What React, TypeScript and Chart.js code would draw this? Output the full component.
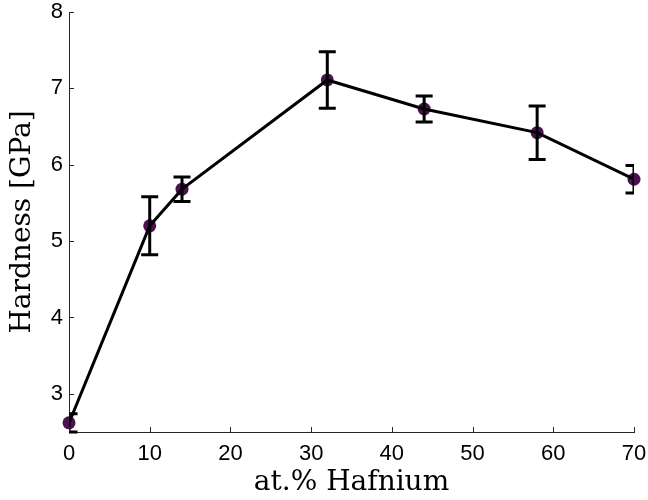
import React, { useEffect, useRef } from "react";
import { Chart, registerables } from "chart.js";

Chart.register(...registerables);

const hafnium = [0, 10, 14, 32, 44, 58, 70];
const hardness = [2.62, 5.2, 5.68, 7.11, 6.73, 6.42, 5.81];
const hardnessErr = [0.12, 0.38, 0.16, 0.37, 0.17, 0.35, 0.18];
const xTicks = [0, 10, 20, 30, 40, 50, 60, 70];
const yTicks = [3, 4, 5, 6, 7, 8];
const xTitle = "at.% Hafnium";
const yTitle = "Hardness [GPa]";

const pointColor = "#4b1150";
const axisColor = "#262626";

const errorBarPlugin = {
  id: "errorBars",
  afterDatasetsDraw(chart: any) {
    const { ctx, chartArea, scales } = chart;
    const xs = scales.x;
    const ys = scales.y;
    ctx.save();
    ctx.beginPath();
    ctx.rect(chartArea.left, 0, chartArea.right - chartArea.left, chart.height);
    ctx.clip();
    ctx.strokeStyle = "#000";
    ctx.lineWidth = 3;
    ctx.lineCap = "butt";
    const cap = 8.5;
    hafnium.forEach((xv, i) => {
      const x = xs.getPixelForValue(xv);
      const yt = ys.getPixelForValue(hardness[i] + hardnessErr[i]);
      const yb = ys.getPixelForValue(hardness[i] - hardnessErr[i]);
      ctx.beginPath();
      ctx.moveTo(x, yt);
      ctx.lineTo(x, yb);
      ctx.moveTo(x - cap, yt);
      ctx.lineTo(x + cap, yt);
      ctx.moveTo(x - cap, yb);
      ctx.lineTo(x + cap, yb);
      ctx.stroke();
    });
    ctx.restore();

    // inward tick marks
    ctx.save();
    ctx.strokeStyle = axisColor;
    ctx.lineWidth = 1;
    const len = 5;
    xs.ticks.forEach((t: any) => {
      const x = Math.round(xs.getPixelForValue(t.value)) + 0.5;
      ctx.beginPath();
      ctx.moveTo(x, chartArea.bottom);
      ctx.lineTo(x, chartArea.bottom - len);
      ctx.stroke();
    });
    ys.ticks.forEach((t: any) => {
      const y = Math.round(ys.getPixelForValue(t.value)) + 0.5;
      ctx.beginPath();
      ctx.moveTo(chartArea.left, y);
      ctx.lineTo(chartArea.left + len, y);
      ctx.stroke();
    });
    ctx.restore();
  },
};

const bgPlugin = {
  id: "bgWhite",
  beforeDraw(chart: any) {
    const { ctx } = chart;
    ctx.save();
    ctx.fillStyle = "#fff";
    ctx.fillRect(0, 0, chart.width, chart.height);
    ctx.restore();
  },
};

export default function App() {
  const ref = useRef<HTMLCanvasElement>(null);
  useEffect(() => {
    if (!ref.current) return;
    const pts = hafnium.map((x, i) => ({ x, y: hardness[i] }));
    const chart = new Chart(ref.current, {
      type: "line",
      data: {
        datasets: [
          {
            data: pts,
            borderColor: "#000",
            borderWidth: 3,
            pointRadius: 0,
            fill: false,
            tension: 0,
            order: 1,
          },
          {
            data: pts,
            showLine: false,
            pointRadius: 6.5,
            pointBackgroundColor: pointColor,
            pointBorderColor: pointColor,
            pointBorderWidth: 0,
            clip: false as any,
            order: 2,
          },
        ],
      },
      options: {
        animation: false,
        responsive: false,
        events: [],
        layout: { padding: { left: 0, right: 14, top: 12, bottom: 0 } },
        plugins: { legend: { display: false }, tooltip: { enabled: false } },
        scales: {
          x: {
            type: "linear",
            min: 0,
            max: 70,
            afterBuildTicks: (s: any) => {
              s.ticks = xTicks.map((v) => ({ value: v }));
            },
            afterFit: (s: any) => {
              s.height = 68;
              s.paddingLeft = 0;
              s.paddingRight = 0;
            },
            grid: { display: false, drawTicks: false },
            border: { display: true, color: axisColor, width: 1 },
            ticks: {
              color: "#000",
              padding: 9,
              maxRotation: 0,
              font: { family: "'Liberation Sans', Arial, sans-serif", size: 22 },
            },
            title: {
              display: true,
              text: xTitle,
              color: "#000",
              padding: { top: 0, bottom: 0 },
              font: { family: "'DejaVu Serif', serif", size: 28 },
            },
          },
          y: {
            type: "linear",
            min: 2.5,
            max: 8,
            afterBuildTicks: (s: any) => {
              s.ticks = yTicks.map((v) => ({ value: v }));
            },
            afterFit: (s: any) => {
              s.width = 69;
              s.paddingTop = 0;
              s.paddingBottom = 0;
            },
            grid: { display: false, drawTicks: false },
            border: { display: true, color: axisColor, width: 1 },
            ticks: {
              color: "#000",
              padding: 6,
              font: { family: "'Liberation Sans', Arial, sans-serif", size: 22 },
            },
            title: {
              display: true,
              text: yTitle,
              color: "#000",
              padding: { top: 6, bottom: 0 },
              font: { family: "'DejaVu Serif', serif", size: 28 },
            },
          },
        },
      },
      plugins: [bgPlugin, errorBarPlugin],
    });
    return () => chart.destroy();
  }, []);
  return (
    <div style={{ position: "fixed", left: 0, top: 0, width: 648, height: 500, background: "#fff" }}>
      <canvas ref={ref} width={648} height={500} style={{ width: 648, height: 500, display: "block" }} />
    </div>
  );
}
